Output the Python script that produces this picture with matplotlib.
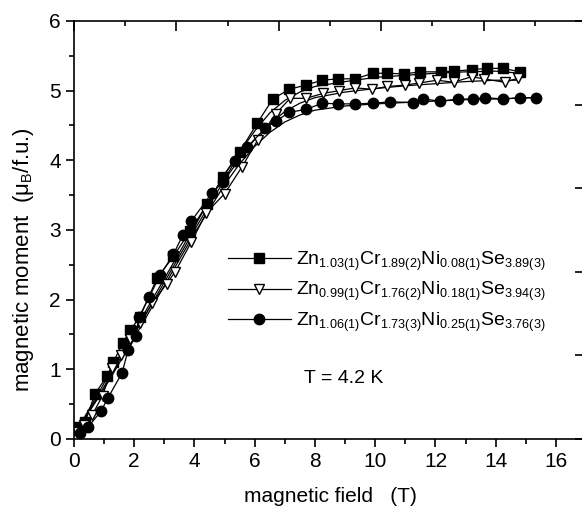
import matplotlib.pyplot as plt
from matplotlib.ticker import MultipleLocator
from matplotlib import _mathtext

plt.rcParams['font.family'] = ['Liberation Sans', 'DejaVu Sans']
plt.rcParams['mathtext.fontset'] = 'custom'
plt.rcParams['mathtext.rm'] = 'Liberation Sans'
plt.rcParams['mathtext.it'] = 'Liberation Sans'
# slightly smaller subscripts, like the original figure
_mathtext.SHRINK_FACTOR = 0.65

# sample 1: Zn1.03Cr1.89Ni0.08Se3.89 (squares), increasing field
field_sq = [0.1, 0.37, 0.7, 1.1, 1.3, 1.63, 1.86, 2.19, 2.76, 3.3, 3.85, 4.42, 4.95, 5.5,
            6.08, 6.6, 7.15, 7.7, 8.24, 8.77, 9.34, 9.93, 10.4, 10.96, 11.5, 12.2, 12.6,
            13.2, 13.7, 14.25, 14.8]
moment_sq = [0.17, 0.24, 0.65, 0.9, 1.1, 1.38, 1.56, 1.75, 2.31, 2.62, 2.98, 3.37, 3.76, 4.12,
             4.53, 4.88, 5.02, 5.08, 5.15, 5.17, 5.17, 5.25, 5.25, 5.24, 5.27, 5.27, 5.28,
             5.3, 5.32, 5.32, 5.27]

# sample 2: Zn0.99Cr1.76Ni0.18Se3.94 (open down triangles)
field_tri = [0.1, 0.35, 0.6, 0.95, 1.26, 1.55, 1.86, 2.2, 2.6, 3.08, 3.36, 3.9, 4.4, 5.0,
             5.57, 6.1, 6.7, 7.18, 7.7, 8.27, 8.8, 9.34, 9.9, 10.4, 11.0, 11.46, 12.06,
             12.6, 13.2, 13.6, 14.3, 14.75]
moment_tri = [0.1, 0.2, 0.34, 0.62, 1.02, 1.2, 1.43, 1.66, 1.95, 2.23, 2.4, 2.83, 3.25, 3.52,
              3.9, 4.29, 4.67, 4.89, 4.89, 4.96, 5.0, 5.04, 5.02, 5.06, 5.08, 5.11, 5.15,
              5.12, 5.2, 5.17, 5.12, 5.18]

# sample 3: Zn1.06Cr1.73Ni0.25Se3.76 (circles)
field_ci = [0.2, 0.47, 0.9, 1.13, 1.6, 1.8, 2.06, 2.16, 2.5, 2.86, 3.3, 3.62, 3.9, 4.58,
            4.95, 5.35, 5.75, 6.35, 6.7, 7.15, 7.7, 8.24, 8.77, 9.34, 9.93, 10.5, 11.26,
            11.6, 12.16, 12.76, 13.26, 13.65, 14.25, 14.8, 15.35]
moment_ci = [0.09, 0.17, 0.4, 0.59, 0.95, 1.28, 1.48, 1.75, 2.04, 2.35, 2.65, 2.93, 3.13, 3.53,
             3.69, 3.99, 4.19, 4.46, 4.56, 4.69, 4.73, 4.82, 4.81, 4.81, 4.82, 4.84, 4.83,
             4.88, 4.85, 4.88, 4.88, 4.9, 4.88, 4.9, 4.9]

# decreasing-field sweeps (plain lines)
down_field_sq = [0.0, 1.0, 2.0, 3.0, 4.0, 5.0, 5.5, 6.0, 6.5, 7.0, 7.5, 8.0, 9.0, 10.0, 11.0, 12.0, 13.0, 14.0, 14.8]
down_moment_sq = [0.05, 0.8, 1.55, 2.3, 3.05, 3.8, 4.12, 4.42, 4.68, 4.86, 4.98, 5.06, 5.13, 5.19, 5.22, 5.25, 5.27, 5.28, 5.25]
down_field_tri = [0.0, 1.0, 2.0, 3.0, 4.0, 5.0, 5.5, 6.0, 6.5, 7.0, 7.5, 8.0, 9.0, 10.0, 11.0, 12.0, 13.0, 14.0, 14.75]
down_moment_tri = [0.05, 0.75, 1.5, 2.25, 3.0, 3.72, 4.02, 4.3, 4.52, 4.7, 4.82, 4.9, 4.98, 5.03, 5.07, 5.1, 5.13, 5.15, 5.15]
down_field_ci = [0.0, 1.0, 2.0, 3.0, 4.0, 5.0, 5.5, 6.0, 6.5, 7.0, 7.5, 8.0, 9.0, 10.0, 11.0, 12.0, 13.0, 14.0, 15.35]
down_moment_ci = [0.05, 0.72, 1.45, 2.2, 2.95, 3.65, 3.95, 4.2, 4.4, 4.55, 4.65, 4.72, 4.78, 4.81, 4.83, 4.85, 4.87, 4.88, 4.9]

labels = [r'$\mathrm{Zn_{1.03(1)}Cr_{1.89(2)}Ni_{0.08(1)}Se_{3.89(3)}}$',
          r'$\mathrm{Zn_{0.99(1)}Cr_{1.76(2)}Ni_{0.18(1)}Se_{3.94(3)}}$',
          r'$\mathrm{Zn_{1.06(1)}Cr_{1.73(3)}Ni_{0.25(1)}Se_{3.76(3)}}$']

fig = plt.figure(figsize=(5.82, 5.12), dpi=100)
ax = fig.add_axes([0.127, 0.1426, 0.88, 0.8164])

ax.plot(down_field_sq, down_moment_sq, '-', color='black', lw=0.9)
ax.plot(down_field_tri, down_moment_tri, '-', color='black', lw=0.9)
ax.plot(down_field_ci, down_moment_ci, '-', color='black', lw=0.9)

ax.plot(field_sq, moment_sq, '-s', color='black', lw=0.9, ms=7, label=labels[0])
ax.plot(field_tri, moment_tri, '-v', color='black', lw=0.9, ms=7.5, mfc='white', mec='black',
        mew=1.0, label=labels[1])
ax.plot(field_ci, moment_ci, '-o', color='black', lw=0.9, ms=7.5, label=labels[2])

ax.set_xlim(0, 17)
ax.set_ylim(0, 6)
ax.xaxis.set_major_locator(MultipleLocator(2))
ax.xaxis.set_minor_locator(MultipleLocator(1))
ax.yaxis.set_major_locator(MultipleLocator(1))
ax.yaxis.set_minor_locator(MultipleLocator(0.5))
ax.tick_params(which='both', direction='out', width=1.2, labelsize=15, colors='black')
ax.tick_params(which='major', length=6)
ax.tick_params(which='minor', length=3.5)
ax.spines['right'].set_visible(False)
for s in ['left', 'bottom', 'top']:
    ax.spines[s].set_linewidth(1.2)

# top and right scales without labels
top = ax.twiny()
top.set_xlim(0, 5)
top.xaxis.set_major_locator(MultipleLocator(1))
top.xaxis.set_minor_locator(MultipleLocator(0.5))
top.tick_params(which='both', direction='in', width=1.2, labeltop=False)
top.tick_params(which='major', length=7)
top.tick_params(which='minor', length=3.5)
right = ax.twinx()
right.set_ylim(0, 5)
right.yaxis.set_major_locator(MultipleLocator(1))
right.tick_params(which='major', direction='in', width=1.2, length=8, labelright=False)
for t in (top, right):
    for s in t.spines.values():
        s.set_visible(False)

ax.set_xlabel('magnetic field   (T)', fontsize=15)
ax.xaxis.set_label_coords(0.5, -0.115)
ax.set_ylabel(r'magnetic moment  (μ$_\mathrm{B}$/f.u.)', fontsize=16)
ax.yaxis.set_label_coords(-0.074, 0.43)

ax.legend(loc='upper left', bbox_to_anchor=(0.275, 0.485), frameon=False, fontsize=14,
          handlelength=3.2, handletextpad=0.3, labelspacing=0.35, borderpad=0.2)
ax.text(8.95, 0.87, 'T = 4.2 K', fontsize=14, ha='center', va='center')

fig.savefig('out.png', dpi=100)
